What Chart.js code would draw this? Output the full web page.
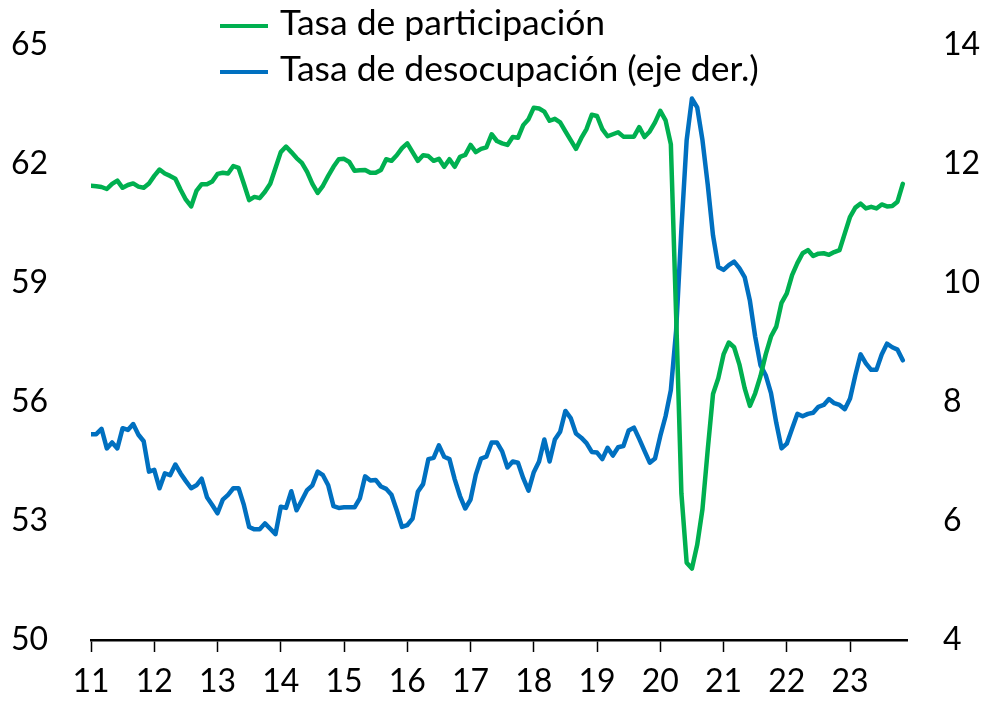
<!DOCTYPE html>
<html>
<head>
<meta charset="utf-8">
<script src="https://cdn.jsdelivr.net/npm/chart.js@4.4.1/dist/chart.umd.min.js"></script>
<style>
  body { margin: 0; background: #fff; }
  #wrap { position: relative; width: 987px; height: 704px; }
  .leg { position: absolute; left: 220px; height: 42px; line-height: 42px; font-family: Lato, sans-serif; font-size: 35.5px; color: #000; white-space: nowrap; }
  .leg .sw { display: inline-block; width: 48px; height: 4px; margin-right: 12px; vertical-align: middle; }
</style>
</head>
<body>
<div id="wrap">
  <canvas id="chart" width="987" height="704"></canvas>
  <div class="leg" style="top:1px"><span class="sw" style="background:#00B050"></span>Tasa de participación</div>
  <div class="leg" style="top:47px"><span class="sw" style="background:#0070C0"></span>Tasa de desocupación (eje der.)</div>
</div>
<script>
// monthly series, Jan 2011 .. Nov 2023
var firstYear = 11;
var participacion = [
  61.45, 61.44, 61.42, 61.37, 61.50, 61.58, 61.40, 61.47, 61.51, 61.43, 61.40, 61.51,
  61.70, 61.86, 61.76, 61.70, 61.63, 61.35, 61.10, 60.93, 61.32, 61.49, 61.49, 61.56,
  61.75, 61.78, 61.76, 61.95, 61.90, 61.50, 61.09, 61.17, 61.14, 61.30, 61.50, 61.90,
  62.30, 62.44, 62.30, 62.15, 62.03, 61.80, 61.50, 61.27, 61.45, 61.70, 61.93, 62.12,
  62.13, 62.05, 61.83, 61.84, 61.85, 61.78, 61.78, 61.85, 62.12, 62.08, 62.22, 62.40,
  62.52, 62.30, 62.08, 62.22, 62.20, 62.08, 62.13, 61.93, 62.12, 61.93, 62.18, 62.23,
  62.48, 62.30, 62.38, 62.42, 62.75, 62.58, 62.52, 62.48, 62.68, 62.66, 62.98, 63.13,
  63.42, 63.40, 63.32, 63.09, 63.14, 63.05, 62.82, 62.60, 62.38, 62.65, 62.88, 63.24,
  63.21, 62.88, 62.70, 62.75, 62.80, 62.69, 62.69, 62.69, 62.93, 62.68, 62.82, 63.05,
  63.34, 63.10, 62.50, 58.20, 53.70, 51.95, 51.80, 52.40, 53.30, 54.80, 56.20, 56.60,
  57.20, 57.50, 57.38, 56.95, 56.35, 55.90, 56.22, 56.65, 57.20, 57.65, 57.90, 58.50,
  58.74, 59.20, 59.50, 59.75, 59.83, 59.68, 59.74, 59.75, 59.71, 59.78, 59.83, 60.25,
  60.67, 60.90, 61.00, 60.88, 60.92, 60.88, 60.98, 60.93, 60.94, 61.05, 61.50
];
var desocupacion = [
  7.46, 7.46, 7.55, 7.22, 7.32, 7.22, 7.56, 7.53, 7.63, 7.45, 7.34, 6.83,
  6.86, 6.55, 6.80, 6.77, 6.95, 6.80, 6.67, 6.55, 6.60, 6.71, 6.40, 6.27,
  6.13, 6.36, 6.44, 6.55, 6.55, 6.27, 5.90, 5.86, 5.86, 5.96, 5.87, 5.78,
  6.24, 6.22, 6.50, 6.18, 6.35, 6.52, 6.60, 6.83, 6.77, 6.60, 6.25, 6.22,
  6.23, 6.23, 6.23, 6.38, 6.75, 6.68, 6.69, 6.58, 6.54, 6.44, 6.18, 5.90,
  5.93, 6.04, 6.49, 6.62, 7.04, 7.06, 7.27, 7.08, 7.04, 6.70, 6.42, 6.21,
  6.36, 6.78, 7.05, 7.08, 7.32, 7.32, 7.17, 6.90, 7.00, 6.98, 6.72, 6.51,
  6.82, 7.00, 7.37, 7.00, 7.37, 7.50, 7.85, 7.73, 7.47, 7.40, 7.31, 7.16,
  7.15, 7.04, 7.23, 7.10, 7.24, 7.26, 7.52, 7.57, 7.38, 7.18, 6.98, 7.05,
  7.43, 7.76, 8.20, 9.20, 10.90, 12.40, 13.10, 12.95, 12.40, 11.65, 10.80, 10.27,
  10.22, 10.30, 10.36, 10.25, 10.10, 9.70, 9.10, 8.62, 8.45, 8.15, 7.65, 7.22,
  7.30, 7.55, 7.80, 7.76, 7.80, 7.82, 7.92, 7.95, 8.05, 7.98, 7.95, 7.88,
  8.06, 8.45, 8.80, 8.65, 8.54, 8.54, 8.80, 8.98, 8.92, 8.88, 8.70
];
var yearTicks = [11, 12, 13, 14, 15, 16, 17, 18, 19, 20, 21, 22, 23];
var leftTicks = [50, 53, 56, 59, 62, 65];
var rightTicks = [4, 6, 8, 10, 12, 14];

function toPoints(values) {
    return values.map(function(v, i) { return { x: firstYear + i / 12, y: v }; });
}

// fixed width for the side axes, and keep the tick padding out of the top/bottom overhang
function fixSideAxis(width) {
    return function(axis) {
        axis.width = width;
        axis.paddingTop = 19;
        axis.paddingBottom = 19;
    };
}

var tickFont = { family: 'Lato', size: 32 };

var chart = new Chart(document.getElementById('chart').getContext('2d'), {
    type: 'line',
    data: {
        datasets: [{
            label: 'Tasa de participación',
            data: toPoints(participacion),
            borderColor: '#00B050',
            borderWidth: 4.5,
            pointRadius: 0,
            yAxisID: 'y'
        }, {
            label: 'Tasa de desocupación (eje der.)',
            data: toPoints(desocupacion),
            borderColor: '#0070C0',
            borderWidth: 4.5,
            pointRadius: 0,
            yAxisID: 'y1'
        }]
    },
    options: {
        responsive: false,
        animation: false,
        layout: { padding: { top: 45, left: 0, right: 0, bottom: 0 } },
        plugins: { legend: { display: false }, tooltip: { enabled: false } },
        elements: { line: { borderCapStyle: 'round', borderJoinStyle: 'round', tension: 0 } },
        scales: {
            x: {
                type: 'linear',
                min: yearTicks[0],
                max: 23.9,
                afterBuildTicks: function(axis) { axis.ticks = yearTicks.map(function(v) { return { value: v }; }); },
                ticks: { font: tickFont, color: '#000', padding: 10, maxRotation: 0, callback: function(v) { return String(v); } },
                grid: { drawOnChartArea: false, drawTicks: true, tickLength: 12, tickColor: '#000', tickWidth: 1.5 },
                border: { display: true, color: '#000', width: 2.5 },
                afterFit: function(axis) { axis.height = 64; }
            },
            y: {
                position: 'left',
                min: leftTicks[0],
                max: leftTicks[leftTicks.length - 1],
                afterBuildTicks: function(axis) { axis.ticks = leftTicks.map(function(v) { return { value: v }; }); },
                ticks: { font: tickFont, color: '#000', padding: 35 },
                grid: { display: false },
                border: { display: false },
                afterFit: fixSideAxis(91)
            },
            y1: {
                position: 'right',
                min: rightTicks[0],
                max: rightTicks[rightTicks.length - 1],
                afterBuildTicks: function(axis) { axis.ticks = rightTicks.map(function(v) { return { value: v }; }); },
                ticks: { font: tickFont, color: '#000', padding: 28 },
                grid: { display: false },
                border: { display: false },
                afterFit: fixSideAxis(80)
            }
        }
    }
});
</script>
</body>
</html>
